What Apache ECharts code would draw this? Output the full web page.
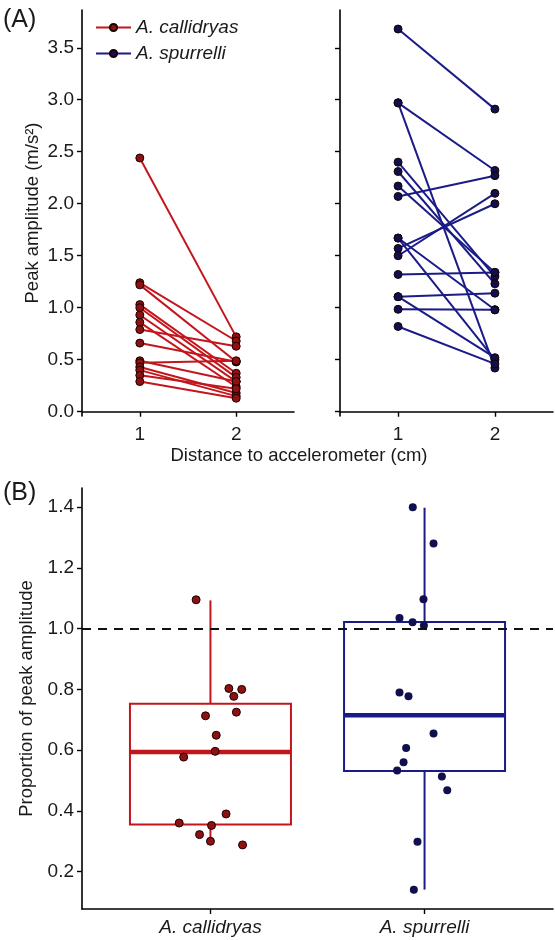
<!DOCTYPE html>
<html>
<head>
<meta charset="utf-8">
<script src="https://cdn.jsdelivr.net/npm/echarts@6/dist/echarts.min.js"></script>
<style>
  html, body { margin: 0; padding: 0; background: #fff; }
  #main { width: 555px; height: 940px; }
</style>
</head>
<body>
<div id="main"></div>
<script>
// panel A: peak amplitude at 1 cm and 2 cm, one pair per individual
const redNear = [2.44, 1.24, 1.22, 1.03, 1.00, 0.93, 0.86, 0.79, 0.66, 0.49, 0.47, 0.43, 0.40, 0.35, 0.29]
const redFar = [0.72, 0.68, 0.48, 0.37, 0.33, 0.29, 0.24, 0.63, 0.48, 0.29, 0.49, 0.18, 0.15, 0.22, 0.13]
const blueNear = [3.68, 2.97, 2.97, 2.40, 2.31, 2.17, 2.07, 1.67, 1.67, 1.57, 1.50, 1.32, 1.106, 1.106, 0.985, 0.82]
const blueFar = [2.91, 2.32, 0.42, 1.30, 1.23, 1.34, 2.27, 0.50, 0.98, 2.00, 2.10, 1.34, 1.14, 0.52, 0.98, 0.46]
const distanceTicks = [1, 2]
const amplitudeTicks = [0, 0.5, 1, 1.5, 2, 2.5, 3, 3.5]

// panel B: proportion (2 cm / 1 cm), jittered x positions
const species = ['A. callidryas', 'A. spurrelli']
const redJitterX = [0.933, 1.086, 1.146, 1.109, 1.121, 0.977, 1.027, 1.022, 0.875, 1.073, 0.854, 1.005, 0.949, 1.0, 1.15]
const redProp = [1.095, 0.803, 0.80, 0.777, 0.725, 0.713, 0.649, 0.596, 0.577, 0.39, 0.36, 0.352, 0.322, 0.30, 0.288]
const blueJitterX = [1.945, 2.042, 1.995, 1.883, 1.944, 1.997, 1.883, 1.925, 2.042, 1.914, 1.902, 1.872, 2.081, 2.106, 1.967, 1.95]
const blueProp = [1.40, 1.28, 1.097, 1.035, 1.021, 1.01, 0.79, 0.777, 0.655, 0.607, 0.56, 0.533, 0.513, 0.468, 0.298, 0.14]
// box stats: [x, lower whisker, q1, median, q3, upper whisker]
const boxStats = [
  [1, 0.31, 0.355, 0.594, 0.753, 1.093],
  [2, 0.141, 0.531, 0.715, 1.022, 1.398]
]
const proportionTicks = [0.2, 0.4, 0.6, 0.8, 1.0, 1.2, 1.4]

const RED_LINE = '#c3161c'
const RED_FILL = '#8e1111'
const BLUE_LINE = '#1b1b88'
const BLUE_FILL = '#10104e'
const FONT = 'Liberation Sans, Arial, sans-serif'

const myChart = echarts.init(document.getElementById('main'))

const axisLine = { show: true, lineStyle: { color: '#000', width: 1.6 } }
const axisTick = (vals) => ({ show: true, length: 5, lineStyle: { color: '#000', width: 1.4 }, customValues: vals })
const labelStyle = { color: '#1a1a1a', fontSize: 19, fontFamily: FONT }

function pairSeries(near, far, name, line, fill, axisIdx) {
  return near.map((v, i) => ({
    type: 'line',
    name: name,
    xAxisIndex: axisIdx,
    yAxisIndex: axisIdx,
    data: [[1, v], [2, far[i]]],
    symbol: 'circle',
    symbolSize: 8,
    lineStyle: { color: line, width: 2 },
    itemStyle: { color: fill, borderColor: '#1a0000', borderWidth: 1 },
    z: 3
  }))
}

const option = {
  animation: false,
  textStyle: { fontFamily: FONT },
  legend: {
    left: 90,
    top: 13,
    orient: 'vertical',
    itemWidth: 35,
    itemHeight: 9,
    itemGap: 7,
    data: species,
    textStyle: { fontSize: 19, fontStyle: 'italic', color: '#1a1a1a', fontFamily: FONT }
  },
  grid: [
    { left: 82, right: 261, top: 10, bottom: 524 },
    { left: 340, right: 2, top: 10, bottom: 524 },
    { left: 82, right: 2, top: 488, bottom: 31 }
  ],
  xAxis: [0, 1].map((g) => ({
    type: 'value',
    gridIndex: g,
    min: 0.4,
    max: 2.6,
    splitLine: { show: false },
    axisLine: axisLine,
    axisTick: axisTick(distanceTicks),
    axisLabel: Object.assign({ margin: 9, customValues: distanceTicks, formatter: (v) => String(v) }, labelStyle)
  })).concat([{
    type: 'value',
    gridIndex: 2,
    min: 0.4,
    max: 2.6,
    splitLine: { show: false },
    axisLine: axisLine,
    axisTick: axisTick([1, 2]),
    axisLabel: Object.assign({ margin: 9, customValues: [1, 2], formatter: (v) => species[Math.round(v) - 1], fontStyle: 'italic' }, labelStyle)
  }]),
  yAxis: [
    {
      type: 'value',
      gridIndex: 0,
      min: -0.041,
      max: 3.863,
      splitLine: { show: false },
      axisLine: axisLine,
      axisTick: axisTick(amplitudeTicks),
      axisLabel: Object.assign({ margin: 8, customValues: amplitudeTicks, formatter: (v) => v.toFixed(1) }, labelStyle),
      name: 'Peak amplitude (m/s²)',
      nameLocation: 'middle',
      nameRotate: 90,
      nameGap: 40,
      nameTextStyle: { fontSize: 18.5, color: '#1a1a1a', fontFamily: FONT }
    },
    {
      type: 'value',
      gridIndex: 1,
      min: -0.041,
      max: 3.863,
      splitLine: { show: false },
      axisLine: axisLine,
      axisTick: axisTick(amplitudeTicks),
      axisLabel: { show: false }
    },
    {
      type: 'value',
      gridIndex: 2,
      min: 0.077,
      max: 1.463,
      splitLine: { show: false },
      axisLine: axisLine,
      axisTick: axisTick(proportionTicks),
      axisLabel: Object.assign({ margin: 8, customValues: proportionTicks, formatter: (v) => v.toFixed(1) }, labelStyle),
      name: 'Proportion of peak amplitude',
      nameLocation: 'middle',
      nameRotate: 90,
      nameGap: 40,
      nameTextStyle: { fontSize: 18.5, color: '#1a1a1a', fontFamily: FONT }
    }
  ],
  series: [
    ...pairSeries(redNear, redFar, species[0], RED_LINE, RED_FILL, 0),
    ...pairSeries(blueNear, blueFar, species[1], BLUE_LINE, BLUE_FILL, 1),
    {
      type: 'custom',
      xAxisIndex: 2,
      yAxisIndex: 2,
      data: boxStats,
      z: 2,
      renderItem: (params, api) => {
        const x = api.value(0)
        const half = 0.376
        const color = x === 1 ? RED_LINE : BLUE_LINE
        const tl = api.coord([x - half, api.value(4)])
        const br = api.coord([x + half, api.value(2)])
        const top = api.coord([x, api.value(5)])
        const q3 = api.coord([x, api.value(4)])
        const q1 = api.coord([x, api.value(2)])
        const low = api.coord([x, api.value(1)])
        const medL = api.coord([x - half, api.value(3)])
        const medR = api.coord([x + half, api.value(3)])
        const st = { stroke: color, lineWidth: 2, fill: null }
        return {
          type: 'group',
          children: [
            { type: 'line', shape: { x1: top[0], y1: top[1], x2: q3[0], y2: q3[1] }, style: st },
            { type: 'line', shape: { x1: q1[0], y1: q1[1], x2: low[0], y2: low[1] }, style: st },
            { type: 'rect', shape: { x: tl[0], y: tl[1], width: br[0] - tl[0], height: br[1] - tl[1] }, style: st },
            { type: 'line', shape: { x1: medL[0], y1: medL[1], x2: medR[0], y2: medR[1] }, style: { stroke: color, lineWidth: 4.5 } }
          ]
        }
      }
    },
    {
      type: 'scatter',
      xAxisIndex: 2,
      yAxisIndex: 2,
      data: redProp.map((v, i) => [redJitterX[i], v]),
      symbolSize: 8,
      itemStyle: { color: RED_FILL, borderColor: '#1a0000', borderWidth: 1, opacity: 1 },
      z: 4,
      markLine: {
        silent: true,
        symbol: 'none',
        label: { show: false },
        lineStyle: { color: '#111', width: 2, type: [9, 7] },
        data: [{ yAxis: 1.0 }]
      }
    },
    {
      type: 'scatter',
      xAxisIndex: 2,
      yAxisIndex: 2,
      data: blueProp.map((v, i) => [blueJitterX[i], v]),
      symbolSize: 8,
      itemStyle: { color: BLUE_FILL, opacity: 1 },
      z: 4
    }
  ],
  graphic: [
    { type: 'text', left: 3, top: 8, style: { text: '(A)', fontSize: 25, fill: '#1a1a1a', fontFamily: FONT } },
    { type: 'text', left: 3, top: 481, style: { text: '(B)', fontSize: 25, fill: '#1a1a1a', fontFamily: FONT } },
    { type: 'text', x: 299, y: 456, style: { text: 'Distance to accelerometer (cm)', fontSize: 18.5, fill: '#1a1a1a', fontFamily: FONT, align: 'center', verticalAlign: 'middle' } }
  ]
}

myChart.setOption(option)
</script>
</body>
</html>
